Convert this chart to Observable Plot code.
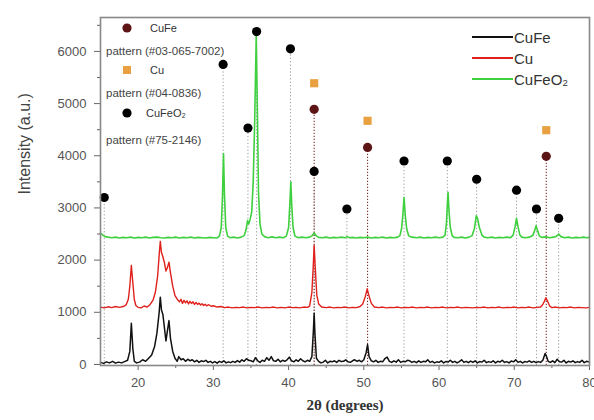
<!DOCTYPE html>
<html><head><meta charset="utf-8">
<script src="https://cdn.jsdelivr.net/npm/d3@7"></script>
<script src="https://cdn.jsdelivr.net/npm/@observablehq/plot@0.6"></script>
<style>
body{margin:0;background:#fff;}
#wrap{position:relative;width:594px;height:420px;}
.lg{position:absolute;font-family:"Liberation Sans",Arial,sans-serif;color:#333;white-space:nowrap;line-height:1;}
.lg svg{position:absolute;overflow:visible;}
</style></head><body><div id="wrap"></div>
<script>
// 2θ (deg), intensity (a.u.)
const cuFePattern = [[15,40],[15.4,20],[15.8,50],[16.2,30],[16.6,60],[17,25],[17.4,45],[17.8,30],[18.2,55],[18.6,80],[18.9,250],[19.1,790],[19.3,300],[19.5,60],[19.8,30],[20.2,45],[20.6,90],[21,60],[21.4,120],[21.8,180],[22.2,350],[22.5,600],[22.8,1000],[22.95,1290],[23.1,1050],[23.3,950],[23.5,700],[23.7,450],[23.9,650],[24.1,840],[24.3,500],[24.6,250],[24.9,120],[25.2,60],[25.4,150],[25.7,90],[26,110],[26.3,60],[26.6,100],[26.9,70],[27.2,90],[27.5,50],[27.8,80],[28.1,40],[28.4,70],[28.7,55],[29,80],[29.3,40],[29.6,60],[29.9,30],[30.2,55],[30.5,25],[30.8,60],[31.1,40],[31.4,70],[31.7,30],[32,50],[32.3,35],[32.6,60],[32.9,40],[33.2,75],[33.5,45],[33.8,90],[34.1,60],[34.4,110],[34.7,80],[35,70],[35.3,50],[35.6,130],[35.9,70],[36.2,40],[36.5,80],[36.8,60],[37.1,130],[37.4,80],[37.7,150],[38,70],[38.3,60],[38.6,100],[38.9,50],[39.2,80],[39.5,60],[39.8,90],[40.1,140],[40.4,70],[40.7,50],[41,90],[41.3,60],[41.6,110],[41.9,70],[42.2,50],[42.5,80],[42.8,60],[43.1,150],[43.3,650],[43.4,980],[43.5,600],[43.7,120],[44,60],[44.3,30],[44.6,45],[44.9,80],[45.2,30],[45.5,60],[45.8,50],[46.1,70],[46.4,40],[46.7,80],[47,55],[47.3,60],[47.6,90],[47.9,50],[48.2,40],[48.5,70],[48.8,90],[49.1,60],[49.4,80],[49.7,50],[50,90],[50.3,220],[50.5,380],[50.7,150],[51,70],[51.3,50],[51.6,80],[51.9,40],[52.2,60],[52.5,50],[52.8,110],[53.1,140],[53.4,60],[53.7,40],[54,70],[54.3,45],[54.6,90],[54.9,40],[55.2,60],[55.5,50],[55.8,80],[56.1,70],[56.4,40],[56.7,60],[57,35],[57.3,70],[57.6,40],[57.9,60],[58.2,50],[58.5,90],[58.8,40],[59.1,60],[59.4,30],[59.7,50],[60,40],[60.3,70],[60.6,30],[60.9,55],[61.2,45],[61.5,80],[61.8,40],[62.1,60],[62.4,30],[62.7,55],[63,90],[63.3,40],[63.6,60],[63.9,35],[64.2,65],[64.5,40],[64.8,70],[65.1,30],[65.4,55],[65.7,45],[66,80],[66.3,35],[66.6,55],[66.9,40],[67.2,70],[67.5,30],[67.8,60],[68.1,45],[68.4,80],[68.7,40],[69,55],[69.3,30],[69.6,65],[69.9,50],[70.2,90],[70.5,40],[70.8,60],[71.1,30],[71.4,55],[71.7,45],[72,70],[72.3,40],[72.6,60],[72.9,35],[73.2,55],[73.5,40],[73.8,80],[74.1,210],[74.3,150],[74.5,60],[74.8,40],[75.1,70],[75.4,35],[75.7,100],[76,50],[76.3,45],[76.6,80],[76.9,30],[77.2,60],[77.5,45],[77.8,70],[78.1,35],[78.4,55],[78.7,40],[79,80],[79.3,35],[79.6,60],[80,45]];

const cuPattern = [[15,1100],[15.5,1085],[16,1105],[16.5,1090],[17,1110],[17.5,1095],[18,1110],[18.4,1140],[18.7,1250],[18.9,1500],[19.1,1900],[19.3,1560],[19.5,1240],[19.7,1130],[20,1095],[20.4,1085],[20.8,1120],[21.2,1100],[21.6,1150],[22,1240],[22.3,1390],[22.6,1700],[22.8,2100],[22.95,2360],[23.1,2150],[23.3,2060],[23.5,1950],[23.7,1790],[23.9,1860],[24.1,1960],[24.3,1760],[24.6,1500],[24.9,1320],[25.2,1250],[25.5,1200],[25.7,1250],[25.9,1170],[26.1,1230],[26.3,1180],[26.5,1220],[26.7,1160],[26.9,1210],[27.1,1170],[27.3,1200],[27.5,1150],[27.7,1190],[27.9,1150],[28.1,1175],[28.3,1140],[28.5,1165],[28.7,1130],[28.9,1155],[29.1,1125],[29.4,1145],[29.7,1115],[30,1125],[30.5,1100],[31,1110],[31.5,1090],[32,1100],[32.5,1085],[33,1095],[33.5,1090],[34,1100],[34.5,1085],[35,1095],[35.5,1090],[36,1100],[36.5,1085],[37,1095],[37.5,1090],[38,1100],[38.5,1085],[39,1095],[39.5,1085],[40,1100],[40.5,1090],[41,1095],[41.5,1085],[42,1100],[42.5,1095],[42.8,1120],[43.1,1380],[43.3,1950],[43.4,2280],[43.55,1850],[43.75,1330],[44,1160],[44.4,1100],[45,1090],[45.5,1100],[46,1085],[46.5,1095],[47,1090],[47.5,1100],[48,1085],[48.5,1095],[49,1090],[49.5,1110],[49.85,1160],[50.2,1300],[50.45,1450],[50.7,1310],[51,1170],[51.4,1100],[52,1090],[52.5,1100],[53,1085],[53.5,1095],[54,1090],[54.5,1100],[55,1085],[55.5,1095],[56,1090],[56.5,1100],[57,1085],[57.5,1095],[58,1090],[58.5,1100],[59,1085],[59.5,1095],[60,1090],[60.5,1100],[61,1085],[61.5,1095],[62,1090],[62.5,1100],[63,1085],[63.5,1095],[64,1090],[64.5,1085],[65,1095],[65.5,1090],[66,1100],[66.5,1085],[67,1095],[67.5,1090],[68,1100],[68.5,1085],[69,1095],[69.5,1090],[70,1100],[70.5,1085],[71,1095],[71.5,1090],[72,1100],[72.5,1085],[73,1095],[73.5,1100],[73.75,1140],[74,1210],[74.2,1280],[74.4,1220],[74.7,1120],[75,1090],[75.5,1100],[76,1085],[76.5,1095],[77,1090],[77.5,1100],[78,1085],[78.5,1095],[79,1090],[79.5,1085],[80,1095]];

const cuFeO2Pattern = [[15,2520],[15.3,2480],[15.6,2450],[16,2440],[16.5,2430],[17,2440],[17.5,2425],[18,2435],[18.5,2430],[19,2440],[19.5,2425],[20,2435],[20.5,2430],[21,2440],[21.5,2425],[22,2435],[22.5,2440],[23,2430],[23.5,2425],[24,2435],[24.5,2430],[25,2440],[25.5,2425],[26,2435],[26.5,2430],[27,2440],[27.5,2425],[28,2435],[28.5,2430],[29,2425],[29.5,2435],[30,2430],[30.5,2425],[30.8,2460],[31.05,2620],[31.22,3250],[31.35,4040],[31.48,3250],[31.65,2620],[31.9,2460],[32.2,2430],[32.7,2440],[33.2,2425],[33.7,2440],[34.1,2470],[34.35,2580],[34.55,2760],[34.7,2690],[34.9,2790],[35.1,2920],[35.3,3500],[35.5,4700],[35.7,6300],[35.85,4900],[36,3300],[36.2,2700],[36.45,2500],[36.8,2450],[37.3,2430],[37.8,2445],[38.3,2430],[38.8,2440],[39.3,2430],[39.7,2460],[40,2620],[40.18,3100],[40.3,3500],[40.42,3050],[40.6,2620],[40.85,2460],[41.3,2430],[41.8,2440],[42.3,2430],[42.8,2440],[43.15,2470],[43.4,2520],[43.65,2470],[44,2435],[44.5,2430],[45,2440],[45.5,2425],[46,2435],[46.5,2430],[47,2440],[47.5,2430],[47.8,2450],[48.1,2430],[48.5,2435],[49,2425],[49.5,2435],[50,2430],[50.5,2440],[51,2425],[51.5,2435],[52,2430],[52.5,2440],[53,2425],[53.5,2435],[54,2430],[54.5,2440],[54.8,2470],[55.02,2600],[55.18,2850],[55.35,3200],[55.52,2850],[55.7,2600],[55.95,2470],[56.3,2440],[56.7,2435],[57,2430],[57.5,2440],[58,2425],[58.5,2435],[59,2430],[59.5,2440],[60,2430],[60.5,2440],[60.8,2480],[60.98,2700],[61.1,3050],[61.2,3300],[61.32,2950],[61.5,2620],[61.75,2470],[62,2435],[62.5,2430],[63,2440],[63.5,2425],[64,2440],[64.4,2470],[64.7,2600],[64.95,2850],[65.12,2800],[65.35,2630],[65.7,2480],[66,2440],[66.5,2430],[67,2440],[67.5,2425],[68,2435],[68.5,2430],[69,2440],[69.5,2430],[69.85,2480],[70.12,2650],[70.3,2800],[70.48,2650],[70.75,2480],[71,2440],[71.5,2430],[72,2440],[72.45,2470],[72.72,2570],[72.9,2660],[73.08,2570],[73.35,2460],[73.7,2435],[74.2,2445],[74.7,2430],[75.2,2440],[75.6,2455],[75.9,2500],[76.2,2450],[76.7,2430],[77.2,2440],[77.7,2425],[78.2,2435],[78.7,2430],[79.2,2440],[79.6,2430],[80,2435]];

// reference pattern markers [2θ, marker height]
const refCuFeO2 = [[15.5,3200],[31.3,5750],[34.6,4530],[35.75,6380],[40.25,6050],[43.4,3700],[47.75,2980],[55.35,3900],[61.1,3900],[65.0,3550],[70.3,3340],[72.95,2980],[75.9,2800]];
const refCuFe = [[43.4,4890],[50.5,4160],[74.25,3990]];
const refCu = [[43.4,5390],[50.5,4670],[74.25,4490]];

const xTicks = [20,30,40,50,60,70,80];
const xMinorTicks = [25,35,45,55,65,75];
const yTicks = [0,1000,2000,3000,4000,5000,6000];
const yMinorTicks = [500,1500,2500,3500,4500,5500,6500];
const xDomain = [15,80];
const yDomain = [-20,6650];

const seriesNames = ["CuFe","Cu","CuFeO₂"];
const seriesColors = ["#111111","#e0201c","#3ed03e"];
const refNames = ["CuFe","Cu","CuFeO₂"];
const refCards = ["pattern (#03-065-7002)","pattern (#04-0836)","pattern (#75-2146)"];
const refColors = ["#5c1414","#e8a040","#000000"];

const X = d => d[0], Y = d => d[1];

const chart = Plot.plot({
  width: 594, height: 420,
  marginLeft: 100, marginRight: 5, marginTop: 17, marginBottom: 55,
  x: {domain: xDomain},
  y: {domain: yDomain},
  style: {fontFamily: "'Liberation Sans', Arial, sans-serif", fontSize: "13px", color: "#555", background: "#fff"},
  marks: [
    Plot.ruleX(refCuFeO2, {x: X, y1: yDomain[0], y2: Y, stroke: "#999", strokeWidth: 1, strokeDasharray: "1.2,2.2"}),
    Plot.ruleX(refCuFe, {x: X, y1: yDomain[0], y2: Y, stroke: "#7a3030", strokeWidth: 1.1, strokeDasharray: "1.2,1.8"}),
    Plot.line(cuFePattern, {x: X, y: Y, stroke: seriesColors[0], strokeWidth: 1.5}),
    Plot.line(cuPattern, {x: X, y: Y, stroke: seriesColors[1], strokeWidth: 1.4}),
    Plot.line(cuFeO2Pattern, {x: X, y: Y, stroke: seriesColors[2], strokeWidth: 1.6}),
    Plot.dot(refCuFeO2, {x: X, y: Y, r: 4.6, fill: refColors[2]}),
    Plot.dot(refCuFe, {x: X, y: Y, r: 4.6, fill: refColors[0]}),
    Plot.dot(refCu, {x: X, y: Y, r: 4.6, symbol: "square", fill: refColors[1]}),
    Plot.axisX({ticks: xTicks, tickSize: 5, tickPadding: 7, label: null, stroke: "#666"}),
    Plot.axisX({ticks: xMinorTicks, tickSize: 3, text: null, label: null, stroke: "#666"}),
    Plot.axisY({ticks: yTicks, tickSize: 6, tickPadding: 8, label: null, tickFormat: d => String(d), stroke: "#666"}),
    Plot.axisY({ticks: yMinorTicks, tickSize: 3, text: null, label: null, stroke: "#666"}),
    Plot.frame({stroke: "#888", strokeWidth: 1.6}),
    Plot.text(["2θ (degrees)"], {frameAnchor: "bottom", dy: 44, fontFamily: "'Liberation Serif', 'Times New Roman', serif", fontWeight: "bold", fontSize: 15, fill: "#333"}),
    Plot.text(["Intensity (a.u.)"], {frameAnchor: "left", dx: -76, dy: 3, rotate: -90, fontSize: 16, fill: "#444"})
  ]
});
const wrap = document.getElementById("wrap");
wrap.appendChild(chart);

// right legend (series)
const rightRows = [37, 58, 79];
seriesNames.forEach((n, i) => {
  const d = document.createElement("div");
  d.className = "lg";
  d.style.left = "472px"; d.style.top = (rightRows[i] - 8) + "px"; d.style.fontSize = "15px"; d.style.color = "#333";
  d.innerHTML = `<svg width="42" height="16" style="left:0;top:0"><line x1="0" x2="41" y1="8" y2="8" stroke="${seriesColors[i]}" stroke-width="1.8"/></svg><span style="position:absolute;left:42px;top:0.5px">${n}</span>`;
  wrap.appendChild(d);
});
// left legend (reference cards)
const markRows = [28, 70, 113];
const cardRows = [52, 94, 141];
refNames.forEach((n, i) => {
  const m = document.createElement("div");
  m.className = "lg";
  m.style.left = "121px"; m.style.top = (markRows[i] - 6) + "px"; m.style.fontSize = "11px";
  const sym = i === 1
    ? `<rect x="2" y="2" width="8" height="8" fill="${refColors[i]}"/>`
    : `<circle cx="6" cy="6" r="4.6" fill="${refColors[i]}"/>`;
  m.innerHTML = `<svg width="12" height="12" style="left:0;top:0">${sym}</svg><span style="position:absolute;left:${i===2?25:29}px;top:0.5px">${n}</span>`;
  wrap.appendChild(m);
  const c = document.createElement("div");
  c.className = "lg";
  c.style.left = "106px"; c.style.top = (cardRows[i] - 6) + "px"; c.style.fontSize = "11.5px"; c.style.color = "#444";
  c.textContent = refCards[i];
  wrap.appendChild(c);
});
</script>
</body></html>
